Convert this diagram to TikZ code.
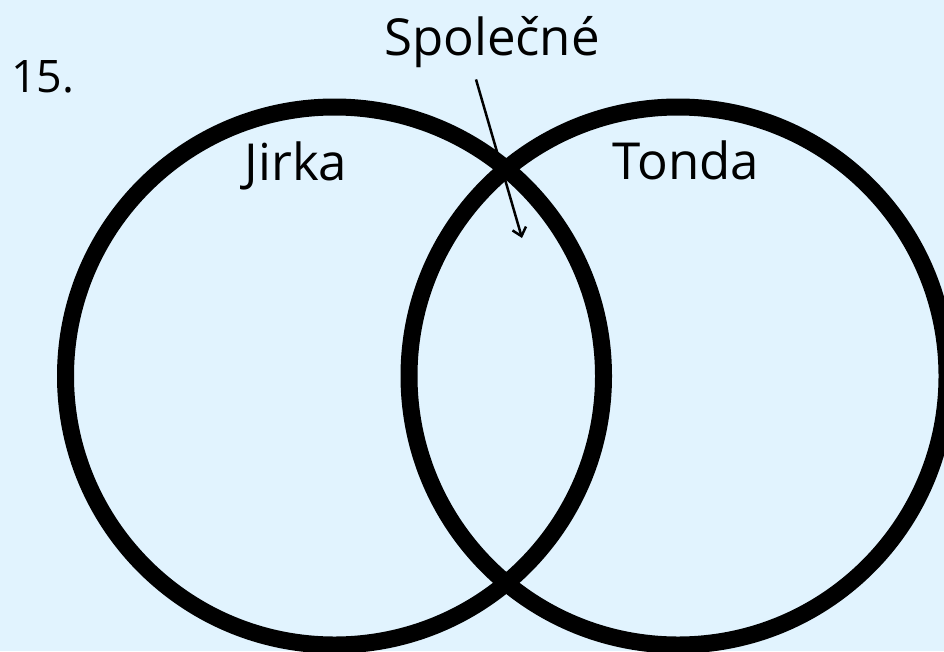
\documentclass[tikz,border=0pt]{standalone}
\usepackage{fontspec}
\setmainfont{Open Sans}
\usetikzlibrary{arrows.meta}
\definecolor{bgblue}{HTML}{E1F3FE}

\begin{document}
\begin{tikzpicture}[x=1pt, y=-1pt,
    setring/.style={draw, circle, line width=17pt, minimum size=538pt, inner sep=0pt},
    label/.style={inner sep=0pt, anchor=base, font=\fontsize{51}{60}\selectfont}]
    \fill[bgblue] (0, 0) rectangle (944, 651);
    \clip (0, 0) rectangle (944, 651);
    \node (jirkaset) [setring] at (334.5, 376) {};
    \node (tondaset) [setring] at (678, 376) {};

    \node (number) [label, anchor=base west, font=\fontsize{44.8}{54}\selectfont] at (11, 92) {15.};
    \node (jirka) [label] at (296, 180) {Jirka};
    \node (tonda) [label] at (686, 179) {Tonda};
    \node (spolecne) [label] at (492, 55) {Společné};

    \coordinate (tip) at (522, 238);
    \draw[line width=2.5pt, -{Straight Barb[length=8pt, width=14pt]}]
        ([xshift=-16pt, yshift=-12pt]spolecne.south) -- (tip);
\end{tikzpicture}
\end{document}
